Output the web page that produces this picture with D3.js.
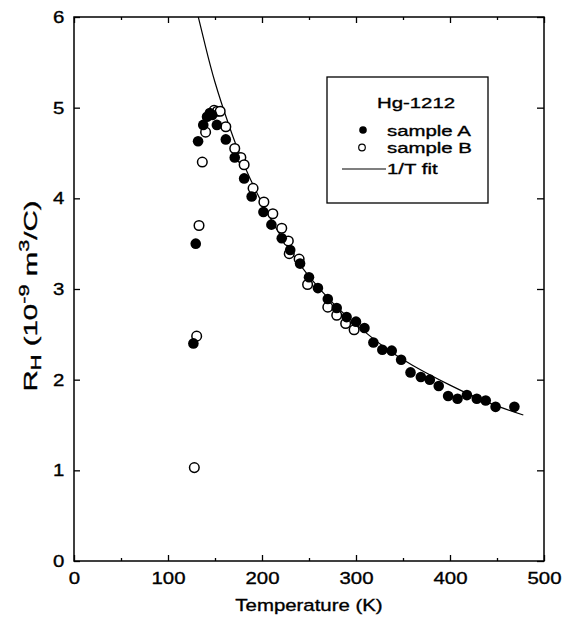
<!DOCTYPE html>
<html>
<head>
<meta charset="utf-8">
<script src="https://cdn.jsdelivr.net/npm/d3@7"></script>
<style>
  body { margin: 0; background: #fff; }
  text { font-family: "Liberation Sans", Arial, sans-serif; fill: #000; stroke: #000; stroke-width: 0.35px; }
</style>
</head>
<body>
<div id="chart"></div>
<script>
// sample A (filled circles)
const tempA = [127, 129.5, 132, 137.5, 141.5, 144.5, 147, 152, 161.5, 171, 181, 189, 201.5, 210, 221, 230,
               240.5, 250, 259.5, 270, 279.5, 290, 300, 309, 318.5, 328, 338, 348, 358, 369, 378.5, 388,
               398, 408, 418, 428.5, 438, 448.5, 468.5];
const rhA = [2.40, 3.50, 4.63, 4.81, 4.90, 4.94, 4.92, 4.81, 4.65, 4.45, 4.22, 4.02, 3.85, 3.71, 3.56, 3.43,
             3.28, 3.13, 3.01, 2.89, 2.79, 2.69, 2.64, 2.57, 2.41, 2.33, 2.32, 2.22, 2.08, 2.03, 2.00, 1.93,
             1.82, 1.79, 1.83, 1.79, 1.77, 1.70, 1.70];
// sample B (open circles)
const tempB = [128, 130.5, 133, 136.5, 140, 149, 152.5, 155.5, 161.5, 171, 177.5, 181, 190.5, 202, 211.5, 221,
               228, 229, 239.5, 248.5, 270, 279.5, 289, 298];
const rhB = [1.03, 2.48, 3.70, 4.40, 4.73, 4.97, 4.96, 4.96, 4.79, 4.55, 4.45, 4.37, 4.11, 3.96, 3.83, 3.67,
             3.53, 3.39, 3.33, 3.05, 2.80, 2.71, 2.62, 2.55];
// 1/T fit line
const fitT = [132, 140, 150, 165, 180, 200, 225, 250, 275, 300, 330, 360, 400, 440, 478];
const fitR = [6.01, 5.67, 5.28, 4.80, 4.39, 3.95, 3.50, 3.14, 2.85, 2.61, 2.36, 2.16, 1.94, 1.75, 1.61];

const xTicks = [0, 100, 200, 300, 400, 500],
      xMinor = [50, 150, 250, 350, 450],
      yTicks = [0, 1, 2, 3, 4, 5, 6];
const legendTitle = "Hg-1212",
      legendLabels = ["sample A", "sample B", "1/T fit"];

let width = 564, height = 623;
const margin = {top: 17, right: 20, bottom: 62, left: 74};
const sx = 1.2,    // the printed font is wide
      fs = '17px';

let svg = d3.select('#chart').append('svg')
  .attr('width', width).attr('height', height);

let x = d3.scaleLinear().domain([0, 500]).range([margin.left, width - margin.right]);
let y = d3.scaleLinear().domain([0, 6]).range([height - margin.bottom, margin.top]);

const x0 = x.range()[0], x1 = x.range()[1], y0 = y.range()[0], y1 = y.range()[1];

svg.append('defs').append('clipPath').attr('id', 'plot')
  .append('rect').attr('x', x0).attr('y', y1).attr('width', x1 - x0).attr('height', y0 - y1);

// axes, ticks pointing in on all four sides
function styleAxis(g) {
  g.select('.domain').remove();
  g.selectAll('line').attr('stroke', '#000').attr('stroke-width', 1.3);
  g.selectAll('text').style('font-size', fs).attr('fill', '#000');
}

svg.append('g').attr('transform', `translate(0,${y0})`)
  .call(d3.axisBottom(x).tickValues(xTicks).tickSize(-6).tickPadding(11).tickFormat(d3.format('d')))
  .call(styleAxis)
  .selectAll('text').attr('transform', `scale(${sx},1)`);
svg.append('g').attr('transform', `translate(0,${y0})`)
  .call(d3.axisBottom(x).tickValues(xMinor).tickSize(-3).tickFormat(''))
  .call(styleAxis);
svg.append('g').attr('transform', `translate(0,${y1})`)
  .call(d3.axisTop(x).tickValues(xTicks).tickSize(-6).tickFormat(''))
  .call(styleAxis);
svg.append('g').attr('transform', `translate(0,${y1})`)
  .call(d3.axisTop(x).tickValues(xMinor).tickSize(-3).tickFormat(''))
  .call(styleAxis);
svg.append('g').attr('transform', `translate(${x0},0)`)
  .call(d3.axisLeft(y).tickValues(yTicks).tickSize(-6).tickPadding(8).tickFormat(d3.format('d')))
  .call(styleAxis)
  .selectAll('text').attr('transform', `scale(${sx},1)`);
svg.append('g').attr('transform', `translate(${x1},0)`)
  .call(d3.axisRight(y).tickValues(yTicks).tickSize(-7).tickFormat(''))
  .call(styleAxis);

// frame
svg.append('rect')
  .attr('x', x0).attr('y', y1).attr('width', x1 - x0).attr('height', y0 - y1)
  .attr('fill', 'none').attr('stroke', '#000').attr('stroke-width', 1.5);

// axis titles
svg.append('g').attr('transform', `translate(${(x0 + x1) / 2},611) scale(${sx},1)`)
  .append('text').attr('text-anchor', 'middle').style('font-size', fs)
  .text('Temperature (K)');

let yTitle = svg.append('g').attr('transform', `translate(37,296) rotate(-90) scale(1.55,1)`)
  .append('text').attr('text-anchor', 'middle').style('font-size', '19px');
yTitle.append('tspan').text('R');
yTitle.append('tspan').attr('baseline-shift', '-0.3em').style('font-size', '14px').text('H');
yTitle.append('tspan').text(' (10');
yTitle.append('tspan').attr('baseline-shift', '0.55em').style('font-size', '14px').text('-9');
yTitle.append('tspan').text(' m');
yTitle.append('tspan').attr('baseline-shift', '0.55em').style('font-size', '14px').text('3');
yTitle.append('tspan').text('/C)');

// fit line
let fitData = fitT.map((t, i) => ({T: t, R: fitR[i]}));
let line = d3.line().x(d => x(d.T)).y(d => y(d.R)).curve(d3.curveNatural);
svg.append('path').datum(fitData)
  .attr('clip-path', 'url(#plot)')
  .attr('d', line)
  .attr('fill', 'none').attr('stroke', '#000').attr('stroke-width', 1.2);

// points
let dataA = tempA.map((t, i) => ({T: t, R: rhA[i]}));
let dataB = tempB.map((t, i) => ({T: t, R: rhB[i]}));

svg.append('g').selectAll('circle').data(dataB).enter().append('circle')
  .attr('cx', d => x(d.T)).attr('cy', d => y(d.R)).attr('r', 4.8)
  .attr('fill', '#fff').attr('stroke', '#000').attr('stroke-width', 1.5);
svg.append('g').selectAll('circle').data(dataA).enter().append('circle')
  .attr('cx', d => x(d.T)).attr('cy', d => y(d.R)).attr('r', 5.3)
  .attr('fill', '#000');

// legend
const lfs = '15px', lsx = 1.36;
let lg = svg.append('g');
lg.append('rect').attr('x', 327).attr('y', 77).attr('width', 161).attr('height', 126)
  .attr('fill', '#fff').attr('stroke', '#000').attr('stroke-width', 1.3);
lg.append('g').attr('transform', `translate(416,108) scale(${lsx},1)`)
  .append('text').attr('text-anchor', 'middle').style('font-size', lfs).text(legendTitle);

const rowY = [135.5, 152.5, 173.5];
lg.append('circle').attr('cx', 363).attr('cy', 130).attr('r', 3.8).attr('fill', '#000');
lg.append('circle').attr('cx', 362).attr('cy', 147.5).attr('r', 3.3)
  .attr('fill', '#fff').attr('stroke', '#000').attr('stroke-width', 1.2);
lg.append('line').attr('x1', 342).attr('x2', 386).attr('y1', 169).attr('y2', 169)
  .attr('stroke', '#000').attr('stroke-width', 1.1);
legendLabels.forEach(function(lab, i) {
  lg.append('g').attr('transform', `translate(387,${rowY[i]}) scale(${lsx},1)`)
    .append('text').style('font-size', lfs).text(lab);
});
</script>
</body>
</html>
